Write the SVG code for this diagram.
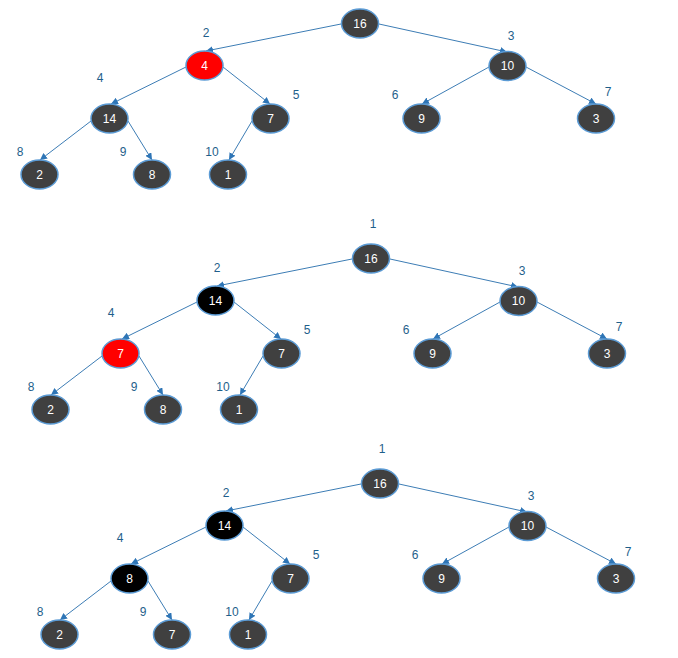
<svg xmlns="http://www.w3.org/2000/svg" width="678" height="658" viewBox="0 0 678 658">
<style>
.n{stroke:#5B9BD5;stroke-width:1.5}
.g{fill:#404040}.r{fill:#FF0000}.b{fill:#000000}
.t{fill:#FFFFFF;font-family:"Liberation Sans",Arial,sans-serif;font-size:12px;text-anchor:middle}
.l{fill:#1F5F8B;font-family:"Liberation Sans",Arial,sans-serif;font-size:12px;text-anchor:middle}
.e{stroke:#3D7DB5;stroke-width:1;fill:none;marker-end:url(#a)}
</style>
<defs>
<marker id="a" viewBox="0 0 10 10" refX="10" refY="5" markerWidth="7" markerHeight="7" markerUnits="userSpaceOnUse" orient="auto">
<path d="M0,0 L10,5 L0,10 z" fill="#2E75B6"/>
</marker>
</defs>
<rect width="678" height="658" fill="#FFFFFF"/>

<!-- Tree 1 -->
<g id="tree1">
<g id="t1-edges">
<path class="e" d="M341,24 L206,51"/>
<path class="e" d="M186,67 L111,104"/>
<path class="e" d="M223,67 L270,104"/>
<path class="e" d="M91,121 L40,160"/>
<path class="e" d="M128,121 L152,160"/>
<path class="e" d="M252,121 L229,160"/>
<path class="e" d="M379,24 L507,52"/>
<path class="e" d="M489,67 L422,104"/>
<path class="e" d="M526,67 L596,104"/>
</g>
<g id="t1-n1"><ellipse class="n g" cx="360" cy="23.5" rx="18.5" ry="14.5"/><text class="t" x="360" y="27.5">16</text></g>
<g id="t1-n2"><ellipse class="n r" cx="204.5" cy="65.5" rx="18.5" ry="14.5"/><text class="t" x="204.5" y="69.5">4</text><text class="l" x="206" y="37">2</text></g>
<g id="t1-n3"><ellipse class="n g" cx="507.5" cy="66" rx="18.5" ry="14.5"/><text class="t" x="507.5" y="70">10</text><text class="l" x="511" y="40">3</text></g>
<g id="t1-n4"><ellipse class="n g" cx="109.5" cy="118.5" rx="18.5" ry="14.5"/><text class="t" x="109.5" y="122.5">14</text><text class="l" x="100" y="82">4</text></g>
<g id="t1-n5"><ellipse class="n g" cx="270.5" cy="118.5" rx="18.5" ry="14.5"/><text class="t" x="270.5" y="122.5">7</text><text class="l" x="296" y="99">5</text></g>
<g id="t1-n6"><ellipse class="n g" cx="421.5" cy="118.5" rx="18.5" ry="14.5"/><text class="t" x="421.5" y="122.5">9</text><text class="l" x="395" y="99">6</text></g>
<g id="t1-n7"><ellipse class="n g" cx="596" cy="118.5" rx="18.5" ry="14.5"/><text class="t" x="596" y="122.5">3</text><text class="l" x="608" y="96">7</text></g>
<g id="t1-n8"><ellipse class="n g" cx="39.5" cy="174.5" rx="18.5" ry="14.5"/><text class="t" x="39.5" y="178.5">2</text><text class="l" x="20" y="156">8</text></g>
<g id="t1-n9"><ellipse class="n g" cx="152" cy="174.5" rx="18.5" ry="14.5"/><text class="t" x="152" y="178.5">8</text><text class="l" x="123" y="156">9</text></g>
<g id="t1-n10"><ellipse class="n g" cx="228" cy="174.5" rx="18.5" ry="14.5"/><text class="t" x="228" y="178.5">1</text><text class="l" x="212" y="156">10</text></g>
</g>

<!-- Tree 2 -->
<g id="tree2" transform="translate(11,235)">
<g id="t2-edges">
<path class="e" d="M341,24 L206,51"/>
<path class="e" d="M186,67 L111,104"/>
<path class="e" d="M223,67 L270,104"/>
<path class="e" d="M91,121 L40,160"/>
<path class="e" d="M128,121 L152,160"/>
<path class="e" d="M252,121 L229,160"/>
<path class="e" d="M379,24 L507,52"/>
<path class="e" d="M489,67 L422,104"/>
<path class="e" d="M526,67 L596,104"/>
</g>
<g id="t2-n1"><ellipse class="n g" cx="360" cy="23.5" rx="18.5" ry="14.5"/><text class="t" x="360" y="27.5">16</text><text class="l" x="362" y="-7">1</text></g>
<g id="t2-n2"><ellipse class="n b" cx="204.5" cy="65.5" rx="18.5" ry="14.5"/><text class="t" x="204.5" y="69.5">14</text><text class="l" x="206" y="37">2</text></g>
<g id="t2-n3"><ellipse class="n g" cx="507.5" cy="66" rx="18.5" ry="14.5"/><text class="t" x="507.5" y="70">10</text><text class="l" x="511" y="40">3</text></g>
<g id="t2-n4"><ellipse class="n r" cx="109.5" cy="118.5" rx="18.5" ry="14.5"/><text class="t" x="109.5" y="122.5">7</text><text class="l" x="100" y="82">4</text></g>
<g id="t2-n5"><ellipse class="n g" cx="270.5" cy="118.5" rx="18.5" ry="14.5"/><text class="t" x="270.5" y="122.5">7</text><text class="l" x="296" y="99">5</text></g>
<g id="t2-n6"><ellipse class="n g" cx="421.5" cy="118.5" rx="18.5" ry="14.5"/><text class="t" x="421.5" y="122.5">9</text><text class="l" x="395" y="99">6</text></g>
<g id="t2-n7"><ellipse class="n g" cx="596" cy="118.5" rx="18.5" ry="14.5"/><text class="t" x="596" y="122.5">3</text><text class="l" x="608" y="96">7</text></g>
<g id="t2-n8"><ellipse class="n g" cx="39.5" cy="174.5" rx="18.5" ry="14.5"/><text class="t" x="39.5" y="178.5">2</text><text class="l" x="20" y="156">8</text></g>
<g id="t2-n9"><ellipse class="n g" cx="152" cy="174.5" rx="18.5" ry="14.5"/><text class="t" x="152" y="178.5">8</text><text class="l" x="123" y="156">9</text></g>
<g id="t2-n10"><ellipse class="n g" cx="228" cy="174.5" rx="18.5" ry="14.5"/><text class="t" x="228" y="178.5">1</text><text class="l" x="212" y="156">10</text></g>
</g>

<!-- Tree 3 -->
<g id="tree3" transform="translate(20,460)">
<g id="t3-edges">
<path class="e" d="M341,24 L206,51"/>
<path class="e" d="M186,67 L111,104"/>
<path class="e" d="M223,67 L270,104"/>
<path class="e" d="M91,121 L40,160"/>
<path class="e" d="M128,121 L152,160"/>
<path class="e" d="M252,121 L229,160"/>
<path class="e" d="M379,24 L507,52"/>
<path class="e" d="M489,67 L422,104"/>
<path class="e" d="M526,67 L596,104"/>
</g>
<g id="t3-n1"><ellipse class="n g" cx="360" cy="23.5" rx="18.5" ry="14.5"/><text class="t" x="360" y="27.5">16</text><text class="l" x="362" y="-7">1</text></g>
<g id="t3-n2"><ellipse class="n b" cx="204.5" cy="65.5" rx="18.5" ry="14.5"/><text class="t" x="204.5" y="69.5">14</text><text class="l" x="206" y="37">2</text></g>
<g id="t3-n3"><ellipse class="n g" cx="507.5" cy="66" rx="18.5" ry="14.5"/><text class="t" x="507.5" y="70">10</text><text class="l" x="511" y="40">3</text></g>
<g id="t3-n4"><ellipse class="n b" cx="109.5" cy="118.5" rx="18.5" ry="14.5"/><text class="t" x="109.5" y="122.5">8</text><text class="l" x="100" y="82">4</text></g>
<g id="t3-n5"><ellipse class="n g" cx="270.5" cy="118.5" rx="18.5" ry="14.5"/><text class="t" x="270.5" y="122.5">7</text><text class="l" x="296" y="99">5</text></g>
<g id="t3-n6"><ellipse class="n g" cx="421.5" cy="118.5" rx="18.5" ry="14.5"/><text class="t" x="421.5" y="122.5">9</text><text class="l" x="395" y="99">6</text></g>
<g id="t3-n7"><ellipse class="n g" cx="596" cy="118.5" rx="18.5" ry="14.5"/><text class="t" x="596" y="122.5">3</text><text class="l" x="608" y="96">7</text></g>
<g id="t3-n8"><ellipse class="n g" cx="39.5" cy="174.5" rx="18.5" ry="14.5"/><text class="t" x="39.5" y="178.5">2</text><text class="l" x="20" y="156">8</text></g>
<g id="t3-n9"><ellipse class="n g" cx="152" cy="174.5" rx="18.5" ry="14.5"/><text class="t" x="152" y="178.5">7</text><text class="l" x="123" y="156">9</text></g>
<g id="t3-n10"><ellipse class="n g" cx="228" cy="174.5" rx="18.5" ry="14.5"/><text class="t" x="228" y="178.5">1</text><text class="l" x="212" y="156">10</text></g>
</g>
</svg>
